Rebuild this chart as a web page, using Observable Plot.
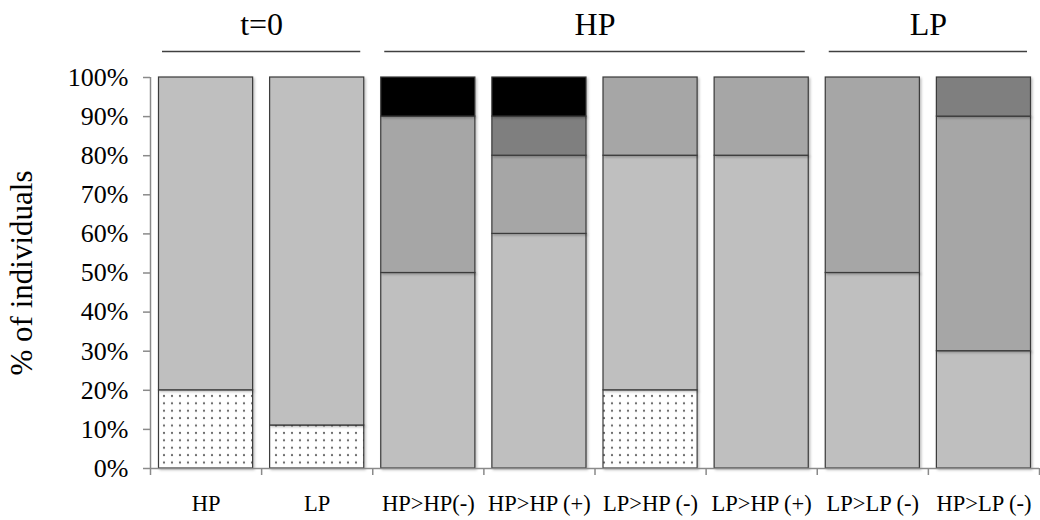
<!DOCTYPE html>
<html>
<head>
<meta charset="utf-8">
<script src="https://cdn.jsdelivr.net/npm/d3@7"></script>
<script src="https://cdn.jsdelivr.net/npm/@observablehq/plot@0.6"></script>
<style>
  html, body { margin: 0; padding: 0; background: #fff; }
  #chart svg { display: block; }
</style>
</head>
<body>
<div id="chart"></div>
<script>
// ---- data ----
const categories = ["HP", "LP", "HP>HP(-)", "HP>HP (+)", "LP>HP (-)", "LP>HP (+)", "LP>LP (-)", "HP>LP (-)"];
const seriesNames = ["dotted", "light", "medium", "dark", "black"];
const dotted = [20, 11, 0, 0, 20, 0, 0, 0];
const light  = [80, 89, 50, 60, 60, 80, 50, 30];
const medium = [0, 0, 40, 20, 20, 20, 50, 60];
const dark   = [0, 0, 0, 10, 0, 0, 0, 10];
const black  = [0, 0, 10, 10, 0, 0, 0, 0];
const seriesColors = ["url(#dots)", "#bfbfbf", "#a6a6a6", "#7f7f7f", "#000000"];
const yTicks = [0, 10, 20, 30, 40, 50, 60, 70, 80, 90, 100];
const groups = [
  {label: "t=0", first: 0, last: 1},
  {label: "HP", first: 2, last: 5},
  {label: "LP", first: 6, last: 7}
];

// ---- build stacked rows ----
const seriesValues = {dotted, light, medium, dark, black};
const rows = [];
categories.forEach((c, i) => {
  let acc = 0;
  for (const s of seriesNames) {
    const v = seriesValues[s][i];
    if (v > 0) rows.push({i, category: c, series: s, y1: acc, y2: acc + v});
    acc += v;
  }
});
const boundaries = d3.range(categories.length + 1).map(i => i - 0.5);

const font = "'Liberation Serif', 'DejaVu Serif', serif";
const axisGray = "#8a8a8a";

const plot = Plot.plot({
  width: 1040,
  height: 520,
  marginLeft: 150,
  marginRight: 1,
  marginTop: 77,
  marginBottom: 52,
  style: {fontFamily: font, fontSize: "16px", color: "#000", background: "#fff", overflow: "visible"},
  x: {type: "linear", domain: [-0.5, categories.length - 0.5], axis: null},
  y: {domain: [0, 100], axis: null},
  color: {type: "ordinal", domain: seriesNames, range: seriesColors},
  marks: [
    Plot.rectY(rows, {
      x1: d => d.i - 0.5, x2: d => d.i + 0.5, y1: "y1", y2: "y2",
      fill: "series", stroke: "#3a3a3a", strokeWidth: 1.2,
      insetLeft: 8.5, insetRight: 8.5
    }),
    // y axis
    Plot.ruleX([-0.5], {y1: 0, y2: 100, stroke: axisGray, strokeWidth: 1.5}),
    Plot.axisY(yTicks, {
      tickSize: 7, tickPadding: 15, tickFormat: d => d + "%", fontSize: 26,
      stroke: axisGray, strokeWidth: 1.5, fill: "#000", label: null
    }),
    Plot.text(["% of individuals"], {
      frameAnchor: "left", textAnchor: "middle", dx: -128, rotate: -90, fontSize: 31, text: d => d
    }),
    // x axis
    Plot.ruleY([0], {stroke: axisGray, strokeWidth: 1.5}),
    Plot.axisX(boundaries, {
      tickSize: 7, tickFormat: () => "", stroke: axisGray, strokeWidth: 1.5, label: null
    }),
    Plot.text(categories, {x: (d, i) => i, y: 0, dy: 35, text: d => d, fontSize: 22.5}),
    // group headers
    Plot.ruleY(groups, {
      x1: g => g.first - 0.5, x2: g => g.last + 0.5, y: 100, dy: -26,
      insetLeft: 12, insetRight: 12, stroke: "#404040", strokeWidth: 1.5
    }),
    Plot.text(groups, {x: g => (g.first + g.last) / 2, y: 100, dy: -53, text: "label", fontSize: 32})
  ]
});

// pattern for dotted segments and soft bar shadow
const svg = d3.select(plot);
const defs = svg.insert("defs", ":first-child");
const pat = defs.append("pattern").attr("id", "dots")
  .attr("patternUnits", "userSpaceOnUse").attr("width", 8).attr("height", 7.4);
pat.append("rect").attr("width", 8).attr("height", 7.4).attr("fill", "#fff");
pat.append("circle").attr("cx", 4).attr("cy", 3.7).attr("r", 1.1).attr("fill", "#666");
const filt = defs.append("filter").attr("id", "shadow").attr("x", "-10%").attr("y", "-10%").attr("width", "130%").attr("height", "130%");
filt.append("feDropShadow").attr("dx", 1.5).attr("dy", 1.5).attr("stdDeviation", 1.2).attr("flood-color", "#000").attr("flood-opacity", 0.25);
svg.select("g[aria-label='rect']").selectAll("rect").attr("filter", "url(#shadow)");

document.getElementById("chart").appendChild(plot);
</script>
</body>
</html>
